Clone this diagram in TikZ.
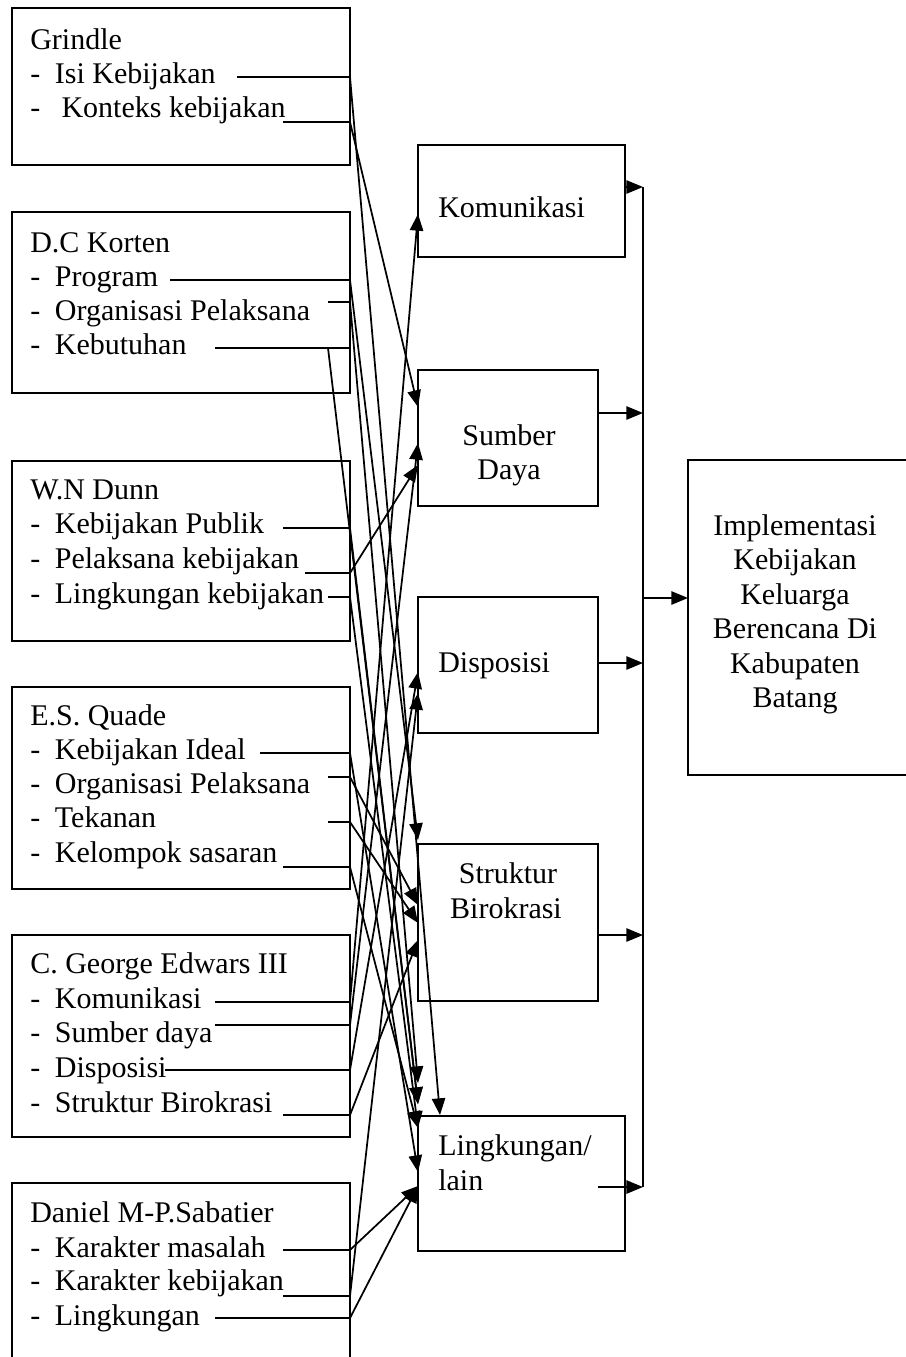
\documentclass[tikz,border=0pt]{standalone}
\usepackage{fontspec}
\setmainfont{Liberation Serif}
\usetikzlibrary{arrows.meta}
\begin{document}
\begin{tikzpicture}[x=0.75pt,y=-0.75pt,
  box/.style={draw,line width=1.3pt},
  wire/.style={line width=1.3pt},
  arr/.style={wire,-{Triangle[length=12.5pt,width=10pt]}},
  txt/.style={font=\fontsize{22.5}{26}\selectfont,inner sep=0pt,anchor=base west},
  ctxt/.style={txt,anchor=base},
]
\useasboundingbox (0,0) rectangle (906,1357);

% ---------- theory boxes (left column) ----------
\draw[box] (12,8) rectangle (350,165);
\draw[box] (12,212) rectangle (350,393);
\draw[box] (12,461) rectangle (350,641);
\draw[box] (12,687) rectangle (350,889);
\draw[box] (12,935) rectangle (350,1137);
\draw[box] (12,1362) -- (12,1183) -- (350,1183) -- (350,1362);

\node[txt] (g0) at (30,49)  {Grindle};
\node[txt] (g1) at (30,83)  {-\hspace{11pt}Isi Kebijakan};
\node[txt] (g2) at (30,117) {-\hspace{16pt}Konteks kebijakan};

\node[txt] (k0) at (30,252) {D.C Korten};
\node[txt] (k1) at (30,286) {-\hspace{11pt}Program};
\node[txt] (k2) at (30,320) {-\hspace{11pt}Organisasi Pelaksana};
\node[txt] (k3) at (30,354) {-\hspace{11pt}Kebutuhan};

\node[txt] (d0) at (30,499) {W.N Dunn};
\node[txt] (d1) at (30,533) {-\hspace{11pt}Kebijakan Publik};
\node[txt] (d2) at (30,568) {-\hspace{11pt}Pelaksana kebijakan};
\node[txt] (d3) at (30,603) {-\hspace{11pt}Lingkungan kebijakan};

\node[txt] (q0) at (30,725) {E.S. Quade};
\node[txt] (q1) at (30,759) {-\hspace{11pt}Kebijakan Ideal};
\node[txt] (q2) at (30,793) {-\hspace{11pt}Organisasi Pelaksana};
\node[txt] (q3) at (30,827) {-\hspace{11pt}Tekanan};
\node[txt] (q4) at (30,862) {-\hspace{11pt}Kelompok sasaran};

\node[txt] (e0) at (30,973)  {C. George Edwars III};
\node[txt] (e1) at (30,1008) {-\hspace{11pt}Komunikasi};
\node[txt] (e2) at (30,1042) {-\hspace{11pt}Sumber daya};
\node[txt] (e3) at (30,1077) {-\hspace{11pt}Disposisi};
\node[txt] (e4) at (30,1112) {-\hspace{11pt}Struktur Birokrasi};

\node[txt] (s0) at (30,1222) {Daniel M-P.Sabatier};
\node[txt] (s1) at (30,1257) {-\hspace{11pt}Karakter masalah};
\node[txt] (s2) at (30,1290) {-\hspace{11pt}Karakter kebijakan};
\node[txt] (s3) at (30,1325) {-\hspace{11pt}Lingkungan};

% ---------- factor boxes (middle column) ----------
\draw[box] (418,145) rectangle (625,257);
\draw[box] (418,370) rectangle (598,506);
\draw[box] (418,597) rectangle (598,733);
\draw[box] (418,844) rectangle (598,1001);
\draw[box] (418,1116) rectangle (625,1251);

\node[txt]  (m1)  at (438,217)  {Komunikasi};
\node[ctxt] (m2a) at (509,445)  {Sumber};
\node[ctxt] (m2b) at (509,479)  {Daya};
\node[txt]  (m3)  at (438,672)  {Disposisi};
\node[ctxt] (m4a) at (508,883)  {Struktur};
\node[ctxt] (m4b) at (506,918)  {Birokrasi};
\node[txt]  (m5a) at (438,1155) {Lingkungan/};
\node[txt]  (m5b) at (438,1190) {lain};

% ---------- outcome box (right) ----------
\draw[box] (912,460) -- (688,460) -- (688,775) -- (912,775);
\node[ctxt] (r1) at (795,535)   {Implementasi};
\node[ctxt] (r2) at (795,569.5) {Kebijakan};
\node[ctxt] (r3) at (795,604)   {Keluarga};
\node[ctxt] (r4) at (795,638.5) {Berencana Di};
\node[ctxt] (r5) at (795,673)   {Kabupaten};
\node[ctxt] (r6) at (795,707.5) {Batang};

% ---------- junctions on the theory boxes ----------
\coordinate (gAs) at (237,77);   \coordinate (gA) at (350,77);
\coordinate (gBs) at (283,122);  \coordinate (gB) at (350,122);
\coordinate (kAs) at (170,280);  \coordinate (kA) at (350,280);
\coordinate (kBs) at (328,302);  \coordinate (kB) at (350,302);
\coordinate (kCs) at (215,348);  \coordinate (kC) at (350,348);
\coordinate (kCd) at (328,348);
\coordinate (dAs) at (283,528);  \coordinate (dA) at (350,528);
\coordinate (dBs) at (305,573);  \coordinate (dB) at (350,573);
\coordinate (dCs) at (328,597);  \coordinate (dC) at (350,597);
\coordinate (qAs) at (260,753);  \coordinate (qA) at (350,753);
\coordinate (qBs) at (328,777);  \coordinate (qB) at (350,777);
\coordinate (qCs) at (328,822);  \coordinate (qC) at (350,822);
\coordinate (qDs) at (283,867);  \coordinate (qD) at (350,867);
\coordinate (eAs) at (215,1002); \coordinate (eA) at (350,1002);
\coordinate (eBs) at (215,1025); \coordinate (eB) at (350,1025);
\coordinate (eCs) at (165,1070); \coordinate (eC) at (350,1070);
\coordinate (eDs) at (283,1115); \coordinate (eD) at (350,1115);
\coordinate (sAs) at (283,1250); \coordinate (sA) at (350,1250);
\coordinate (sBs) at (283,1296); \coordinate (sB) at (350,1296);
\coordinate (sCs) at (215,1318); \coordinate (sC) at (350,1318);

\foreach \a in {gA,gB,kA,kB,kC,dA,dB,dC,qA,qB,qC,qD,eA,eB,eC,eD,sA,sB,sC}
  \draw[wire] (\a s) -- (\a);

% ---------- entry points on the factor boxes ----------
\coordinate (tK1) at (418,214);
\coordinate (tS1) at (418,407);
\coordinate (tS2) at (418,443);
\coordinate (tS3) at (418,465);
\coordinate (tD1) at (418,672);
\coordinate (tD2) at (418,693);
\coordinate (tT0) at (418,840);
\coordinate (tT1) at (418,905);
\coordinate (tT2) at (418,923);
\coordinate (tT3) at (418,940);
\coordinate (tL1) at (418,1083);
\coordinate (tL2) at (418,1104);
\coordinate (tL3) at (440,1115);
\coordinate (tL4) at (418,1128);
\coordinate (tL5) at (418,1172);
\coordinate (tL6) at (418,1186);

% ---------- theory -> factor links ----------
\draw[arr] (gA) -- (tL3);
\draw[arr] (gB) -- (tS1);
\draw[arr] (kA) -- (tT0);
\draw[arr] (kB) -- (tL1);
\draw[arr] (kCd) -- (tL2);
\draw[arr] (dA) -- (tL2);
\draw[arr] (dB) -- (tS3);
\draw[arr] (dC) -- (tL4);
\draw[arr] (qA) -- (tL5);
\draw[arr] (qB) -- (tT1);
\draw[arr] (qC) -- (tT2);
\draw[arr] (qD) -- (tL4);
\draw[arr] (eA) -- (tK1);
\draw[arr] (eB) -- (tS2);
\draw[arr] (eC) -- (tD1);
\draw[arr] (eD) -- (tT3);
\draw[arr] (sA) -- (tL6);
\draw[arr] (sB) -- (tD2);
\draw[arr] (sC) -- (tL6);

% ---------- factors -> collector bus -> outcome ----------
\coordinate (bTop) at (643,187);
\coordinate (bBot) at (643,1187);
\coordinate (bOut) at (643,598);
\coordinate (oIn)  at (688,598);
\coordinate (f1) at (625,187);  \coordinate (b1) at (643,187);
\coordinate (f2) at (598,413);  \coordinate (b2) at (643,413);
\coordinate (f3) at (598,663);  \coordinate (b3) at (643,663);
\coordinate (f4) at (598,935);  \coordinate (b4) at (643,935);
\coordinate (f5) at (598,1187); \coordinate (b5) at (643,1187);

\draw[wire] (bTop) -- (bBot);
\foreach \i in {1,...,5}
  \draw[arr] (f\i) -- (b\i);
\draw[arr] (bOut) -- (oIn);
\end{tikzpicture}
\end{document}
